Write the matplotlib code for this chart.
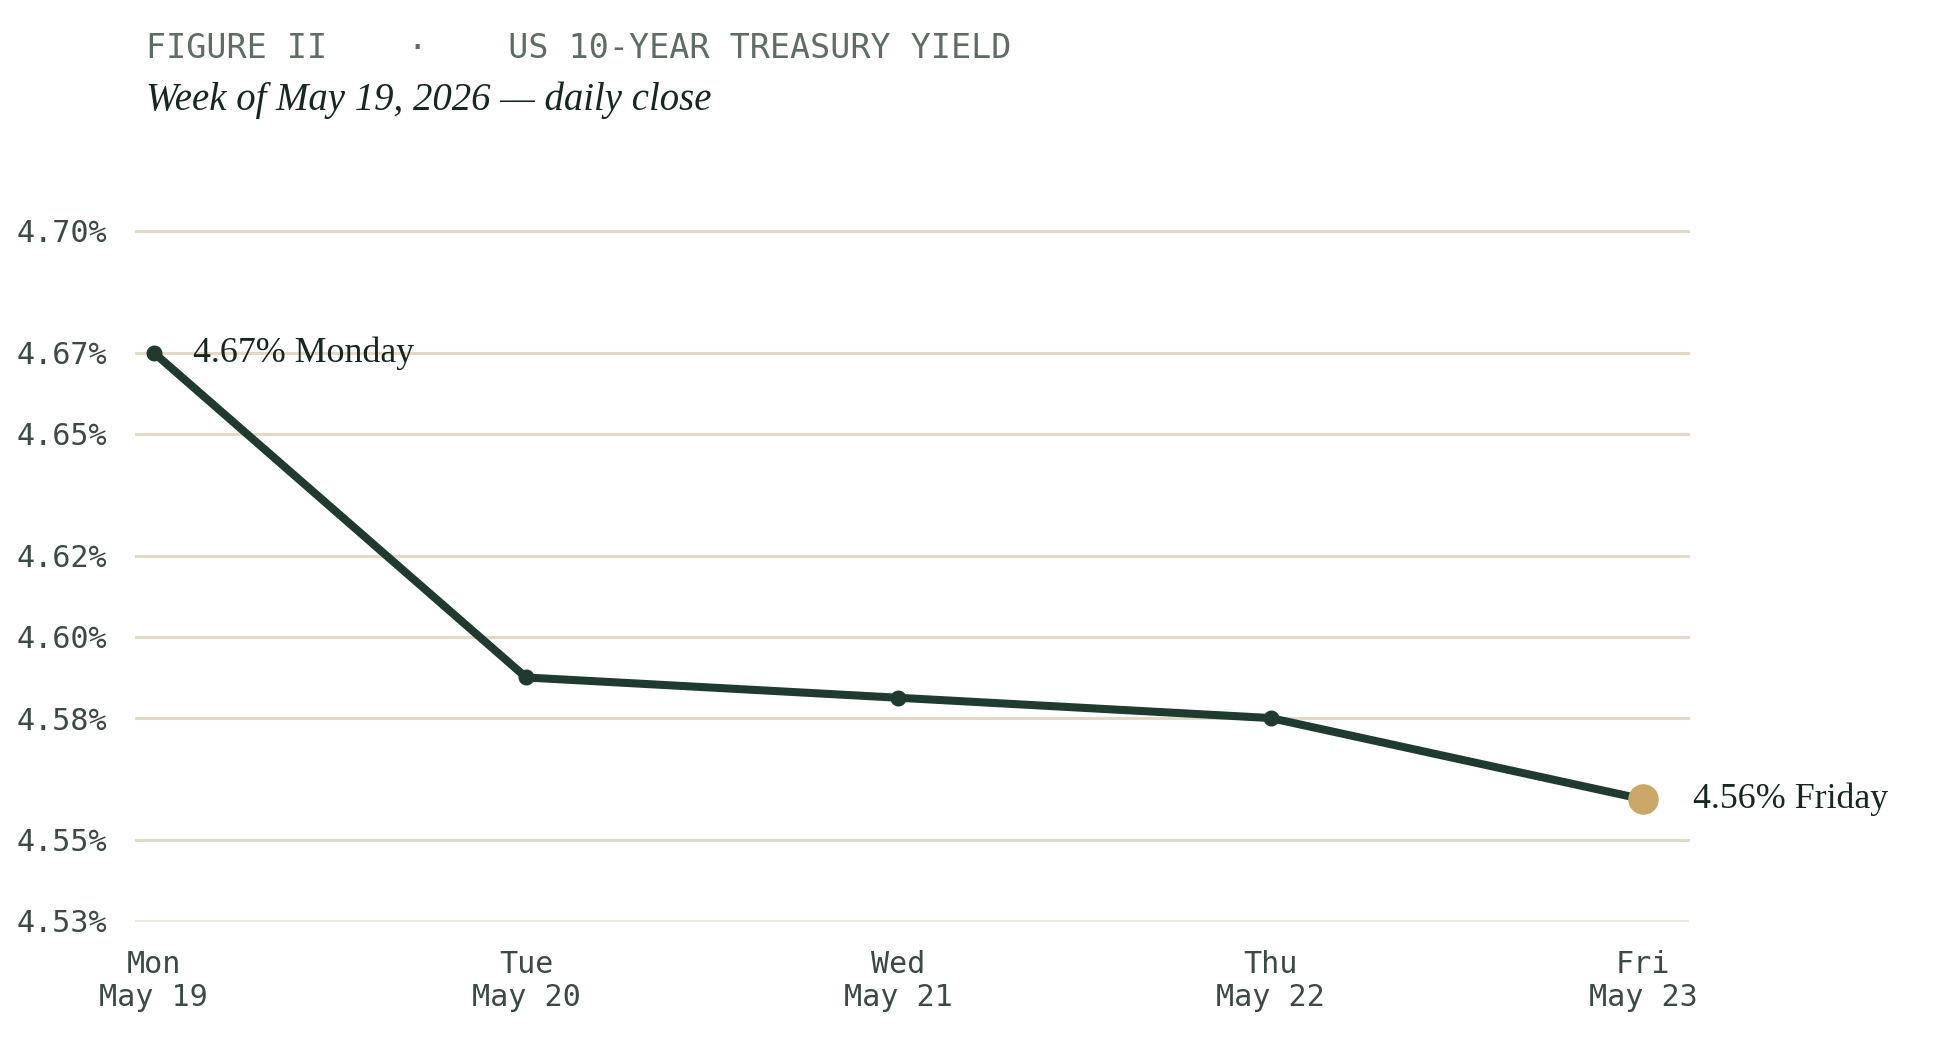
import matplotlib
matplotlib.use("Agg")
import matplotlib.pyplot as plt

# daily closes, week of May 19 2026
days = ["Mon", "Tue", "Wed", "Thu", "Fri"]
dates = ["May 19", "May 20", "May 21", "May 22", "May 23"]
yields = [4.67, 4.59, 4.585, 4.58, 4.56]
y_ticks = [4.53, 4.55, 4.58, 4.60, 4.62, 4.65, 4.67, 4.70]

line_color = "#1f3b2f"
accent = "#c8a769"
grid_color = "#e3dac6"
tick_color = "#3b4a42"
mono = "DejaVu Sans Mono"
serif = "Liberation Serif"

fig = plt.figure(figsize=(19.39, 10.60), dpi=100)
ax = fig.add_axes([136 / 1939, 1 - 921 / 1060, 1552 / 1939, 690 / 1060])

x = list(range(len(days)))
ax.set_xlim(-0.048, 4.121)
ax.set_ylim(4.53, 4.70)

# gridlines
for v in y_ticks:
    if v == y_ticks[0]:
        ax.axhline(v, color="#e8e2d8", linewidth=1.2, zorder=1, clip_on=False)
    else:
        ax.axhline(v, color=grid_color, linewidth=2.2, zorder=1, clip_on=False)

ax.plot(x, yields, color=line_color, linewidth=5.8, solid_capstyle="round",
        solid_joinstyle="round", zorder=3, clip_on=False)
ax.plot(x[:-1], yields[:-1], "o", color=line_color, markersize=10.5, zorder=4, clip_on=False)
ax.plot(x[-1], yields[-1], "o", color=accent, markersize=22, markeredgewidth=0,
        zorder=5, clip_on=False)

# end labels
ax.annotate(f"{yields[0]:.2f}% Monday", (x[0], yields[0]), xytext=(28, 0),
            textcoords="offset points", va="center", ha="left",
            fontsize=25.8, family=serif, color="#16271f")
ax.annotate(f"{yields[-1]:.2f}% Friday", (x[-1], yields[-1]), xytext=(36, 0),
            textcoords="offset points", va="center", ha="left",
            fontsize=25.8, family=serif, color="#16271f")

ax.set_yticks(y_ticks)
ax.set_yticklabels([f"{v:.2f}%" for v in y_ticks], family=mono, fontsize=21.7,
                   color=tick_color)
ax.set_xticks(x)
ax.set_xticklabels([f"{d}\n{m}" for d, m in zip(days, dates)], family=mono,
                   fontsize=21.7, color=tick_color, linespacing=1.15)
ax.tick_params(axis="y", length=0, pad=21)
ax.tick_params(axis="x", length=0, pad=21)
for s in ax.spines.values():
    s.set_visible(False)

fig.text(146 / 1939, 1 - 58 / 1060, "FIGURE II    ·    US 10-YEAR TREASURY YIELD",
         family=mono, fontsize=24, color="#5d6d63", va="baseline", ha="left")
fig.text(146 / 1939, 1 - 110 / 1060, "Week of May 19, 2026 — daily close",
         family=serif, style="italic", fontsize=27.9, color="#16271f",
         va="baseline", ha="left")

fig.savefig("out.png", dpi=100, facecolor="white")
